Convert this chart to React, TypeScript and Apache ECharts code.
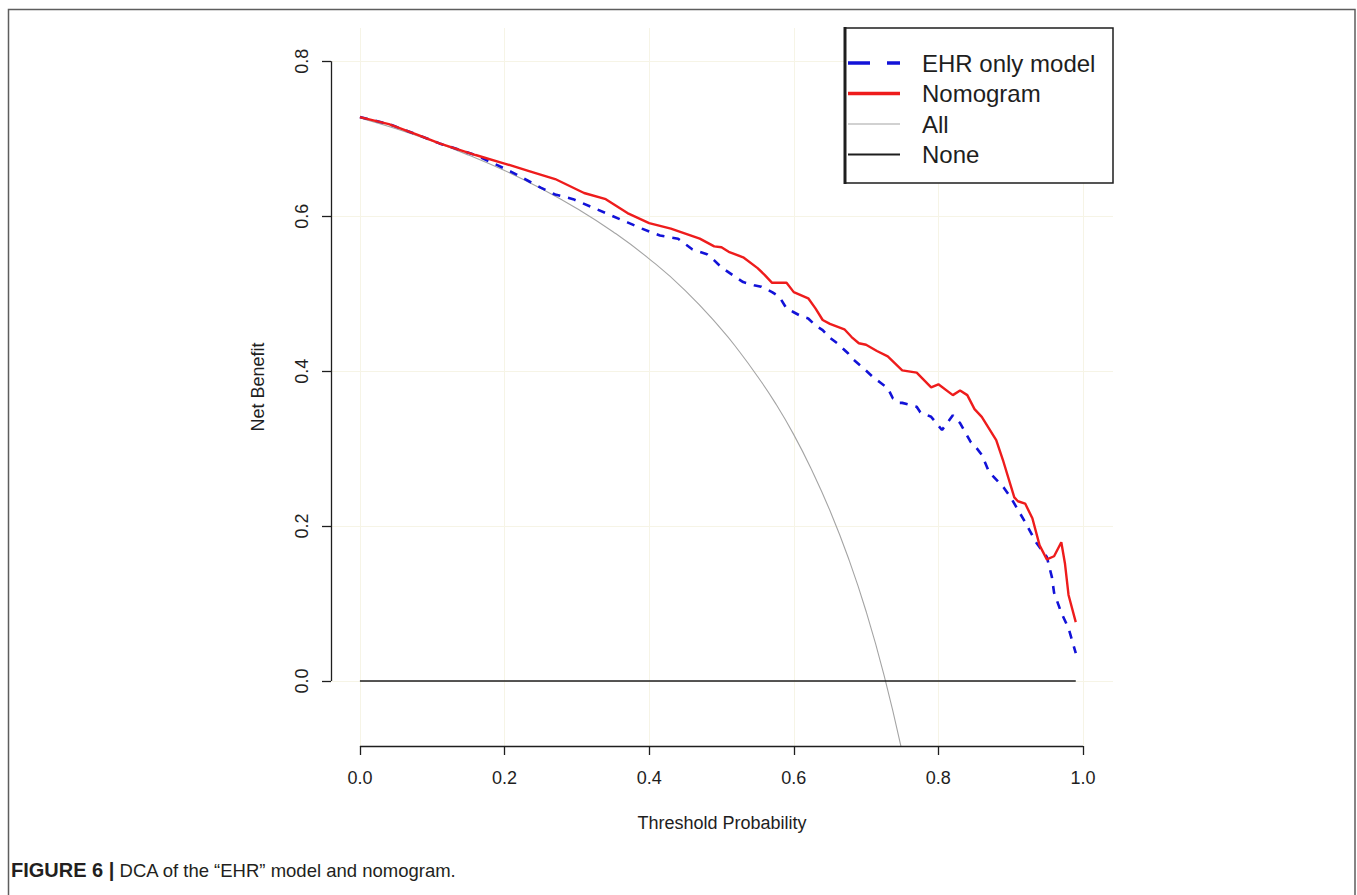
import React, { useEffect, useRef } from "react";
import * as echarts from "echarts";

// ---- data ----
const xTicks = [0, 0.2, 0.4, 0.6, 0.8, 1.0];
const yTicks = [0, 0.2, 0.4, 0.6, 0.8];
const xRange = [-0.04, 1.0415];
const yRange = [-0.084, 0.843];

const seriesNames = ["EHR only model", "Nomogram", "All", "None"];

const ehrPoints = [
  [0, 0.728], [0.04, 0.719], [0.08, 0.705], [0.11, 0.694], [0.16, 0.679], [0.19, 0.666],
  [0.21, 0.657], [0.25, 0.637], [0.27, 0.628], [0.295, 0.622], [0.32, 0.612], [0.34, 0.604],
  [0.37, 0.592], [0.39, 0.584], [0.415, 0.575], [0.44, 0.571], [0.46, 0.557], [0.48, 0.551],
  [0.49, 0.543], [0.5, 0.534], [0.52, 0.521], [0.53, 0.515], [0.545, 0.511], [0.555, 0.509],
  [0.57, 0.502], [0.58, 0.496], [0.59, 0.481], [0.6, 0.476], [0.61, 0.471], [0.62, 0.468],
  [0.63, 0.459], [0.64, 0.453], [0.65, 0.443], [0.66, 0.436], [0.675, 0.423], [0.68, 0.417],
  [0.695, 0.405], [0.71, 0.392], [0.72, 0.385], [0.73, 0.378], [0.737, 0.365], [0.745, 0.359],
  [0.75, 0.359], [0.77, 0.354], [0.775, 0.347], [0.79, 0.341], [0.805, 0.324], [0.82, 0.343],
  [0.83, 0.333], [0.845, 0.308], [0.85, 0.304], [0.86, 0.292], [0.87, 0.27], [0.89, 0.25],
  [0.9, 0.237], [0.91, 0.221], [0.92, 0.205], [0.935, 0.179], [0.95, 0.16], [0.957, 0.134],
  [0.96, 0.114], [0.97, 0.088], [0.98, 0.068], [0.99, 0.036],
];

const nomogramPoints = [
  [0, 0.728], [0.04, 0.719], [0.08, 0.705], [0.11, 0.694], [0.16, 0.679], [0.2, 0.668],
  [0.235, 0.658], [0.27, 0.648], [0.31, 0.63], [0.34, 0.622], [0.37, 0.604], [0.4, 0.591],
  [0.43, 0.584], [0.47, 0.571], [0.49, 0.561], [0.5, 0.56], [0.51, 0.554], [0.53, 0.547],
  [0.55, 0.533], [0.56, 0.524], [0.57, 0.514], [0.59, 0.514], [0.6, 0.502], [0.62, 0.494],
  [0.63, 0.481], [0.64, 0.466], [0.65, 0.461], [0.67, 0.454], [0.68, 0.444], [0.69, 0.436],
  [0.7, 0.434], [0.715, 0.426], [0.73, 0.419], [0.74, 0.41], [0.75, 0.401], [0.77, 0.398],
  [0.79, 0.379], [0.8, 0.383], [0.82, 0.369], [0.83, 0.375], [0.84, 0.369], [0.85, 0.351],
  [0.86, 0.341], [0.88, 0.311], [0.89, 0.283], [0.905, 0.237], [0.91, 0.232], [0.92, 0.229],
  [0.93, 0.21], [0.94, 0.175], [0.95, 0.157], [0.96, 0.161], [0.97, 0.179], [0.975, 0.152],
  [0.98, 0.111], [0.99, 0.076],
];

const allPoints = [
  [0, 0.727], [0.05, 0.713], [0.1, 0.697], [0.15, 0.679], [0.2, 0.659], [0.25, 0.636],
  [0.3, 0.61], [0.35, 0.58], [0.4, 0.545], [0.45, 0.504], [0.5, 0.454], [0.525, 0.425],
  [0.55, 0.393], [0.575, 0.358], [0.6, 0.318], [0.625, 0.272], [0.65, 0.22], [0.675, 0.16],
  [0.7, 0.09], [0.725, 0.007], [0.75, -0.092],
];

const nonePoints = [[0, 0], [0.99, 0]];

const captionBold = "FIGURE 6 |";
const captionText = "DCA of the \u201cEHR\u201d model and nomogram.";

// ---- styling ----
const FONT = "'Liberation Sans', Arial, Helvetica, sans-serif";
const RED = "#ee1c1c";
const BLUE = "#1212d8";
const GRAY = "#a4a4a4";
const BLACK = "#1e1e1e";
const GRID = "#f6f4e6";

const speck = " M0,0h0.01v0.01h-0.01z M51.99,13.99h0.01v0.01h-0.01z";
const legendIcons = [
  "path://M0,5.25h22v3.5h-22z M39,5.25h13v3.5h-13z" + speck,
  "path://M0,5.25h52v3.5h-52z" + speck,
  "path://M0,6.5h52v1h-52z" + speck,
  "path://M0,6h52v2h-52z" + speck,
];
const legendColors = [BLUE, RED, GRAY, BLACK];

function buildOption() {
  const lastX = xTicks[xTicks.length - 1];
  const lastY = yTicks[yTicks.length - 1];
  return {
    animation: false,
    backgroundColor: "#ffffff",
    grid: {
      left: 331,
      right: 1357 - 1113,
      top: 28,
      bottom: 895 - 746,
      containLabel: false,
      outerBoundsMode: "none",
    },
    xAxis: {
      type: "value",
      min: xRange[0],
      max: xRange[1],
      name: "Threshold Probability",
      nameLocation: "middle",
      nameGap: 68,
      nameTextStyle: { fontFamily: FONT, fontSize: 18, color: BLACK },
      axisLine: { show: false, onZero: false },
      axisTick: {
        show: true,
        customValues: xTicks,
        length: 9,
        lineStyle: { color: BLACK, width: 1.3 },
      },
      axisLabel: {
        customValues: xTicks,
        margin: 23,
        fontFamily: FONT,
        fontSize: 18,
        color: BLACK,
        formatter: (v: number) => v.toFixed(1),
      },
      splitLine: { show: true, lineStyle: { color: GRID, width: 1 } },
    },
    yAxis: {
      type: "value",
      min: yRange[0],
      max: yRange[1],
      name: "Net Benefit",
      nameLocation: "middle",
      nameGap: 64,
      nameTextStyle: { fontFamily: FONT, fontSize: 18, color: BLACK },
      axisLine: { show: false, onZero: false },
      axisTick: {
        show: true,
        customValues: yTicks,
        length: 9,
        lineStyle: { color: BLACK, width: 1.3 },
      },
      axisLabel: {
        customValues: yTicks,
        rotate: 90,
        margin: 20,
        fontFamily: FONT,
        fontSize: 18,
        color: BLACK,
        formatter: (v: number) => v.toFixed(1),
      },
      splitLine: { show: true, lineStyle: { color: GRID, width: 1 } },
    },
    legend: {
      orient: "vertical",
      left: 848,
      top: 51,
      padding: 0,
      itemWidth: 52,
      itemHeight: 14,
      itemGap: 6.5,
      selectedMode: false,
      symbolKeepAspect: true,
      textStyle: {
        fontFamily: FONT,
        fontSize: 24,
        color: BLACK,
        padding: [0, 0, 0, 17],
      },
      data: seriesNames.map((n, i) => ({
        name: n,
        icon: legendIcons[i],
        itemStyle: { color: legendColors[i], borderWidth: 0 },
      })),
    },
    graphic: [
      {
        type: "rect",
        z: 3,
        shape: { x: 845, y: 28, width: 268, height: 155 },
        style: { fill: "#ffffff", stroke: BLACK, lineWidth: 1.5 },
      },
      {
        type: "line",
        z: 3,
        shape: { x1: 845, y1: 27, x2: 845, y2: 184 },
        style: { stroke: BLACK, lineWidth: 3 },
      },
      {
        type: "rect",
        z: 3,
        shape: { x: 8.5, y: 9.5, width: 1346.5, height: 900 },
        style: { fill: "none", stroke: "#5e5e5e", lineWidth: 1.5 },
      },
      {
        type: "text",
        z: 3,
        x: 11,
        y: 870,
        style: {
          text: "{b|" + captionBold + "} " + captionText,
          fontFamily: FONT,
          fontSize: 18.5,
          fill: "#231f20",
          verticalAlign: "middle",
          rich: {
            b: { fontFamily: FONT, fontSize: 20, fontWeight: "bold", fill: "#231f20" },
          },
        },
      },
    ],
    series: [
      {
        name: "All",
        type: "line",
        data: allPoints,
        symbol: "none",
        smooth: true,
        lineStyle: { color: GRAY, width: 1.1 },
        itemStyle: { color: GRAY },
        z: 2,
      },
      {
        name: "None",
        type: "line",
        data: nonePoints,
        symbol: "none",
        clip: false,
        lineStyle: { color: BLACK, width: 1.5 },
        itemStyle: { color: BLACK },
        z: 2,
        markLine: {
          silent: true,
          symbol: ["none", "none"],
          label: { show: false },
          lineStyle: { color: BLACK, width: 1.3, type: "solid" },
          data: [
            [{ coord: [xTicks[0], yRange[0]] }, { coord: [lastX, yRange[0]] }],
            [{ coord: [xRange[0], yTicks[0]] }, { coord: [xRange[0], lastY] }],
          ],
        },
      },
      {
        name: "EHR only model",
        type: "line",
        data: ehrPoints,
        symbol: "none",
        lineStyle: { color: BLUE, width: 2.6, type: [8, 8] },
        itemStyle: { color: BLUE },
        z: 3,
      },
      {
        name: "Nomogram",
        type: "line",
        data: nomogramPoints,
        symbol: "none",
        lineStyle: { color: RED, width: 2.4 },
        itemStyle: { color: RED },
        z: 4,
      },
    ],
  };
}

export default function App() {
  const ref = useRef<HTMLDivElement>(null);
  useEffect(() => {
    if (!ref.current) return;
    const chart = echarts.init(ref.current, undefined, { renderer: "svg" });
    chart.setOption(buildOption() as any);
    return () => chart.dispose();
  }, []);
  return (
    <div
      ref={ref}
      style={{ position: "fixed", left: 0, top: 0, width: 1357, height: 895, background: "#fff" }}
    />
  );
}
